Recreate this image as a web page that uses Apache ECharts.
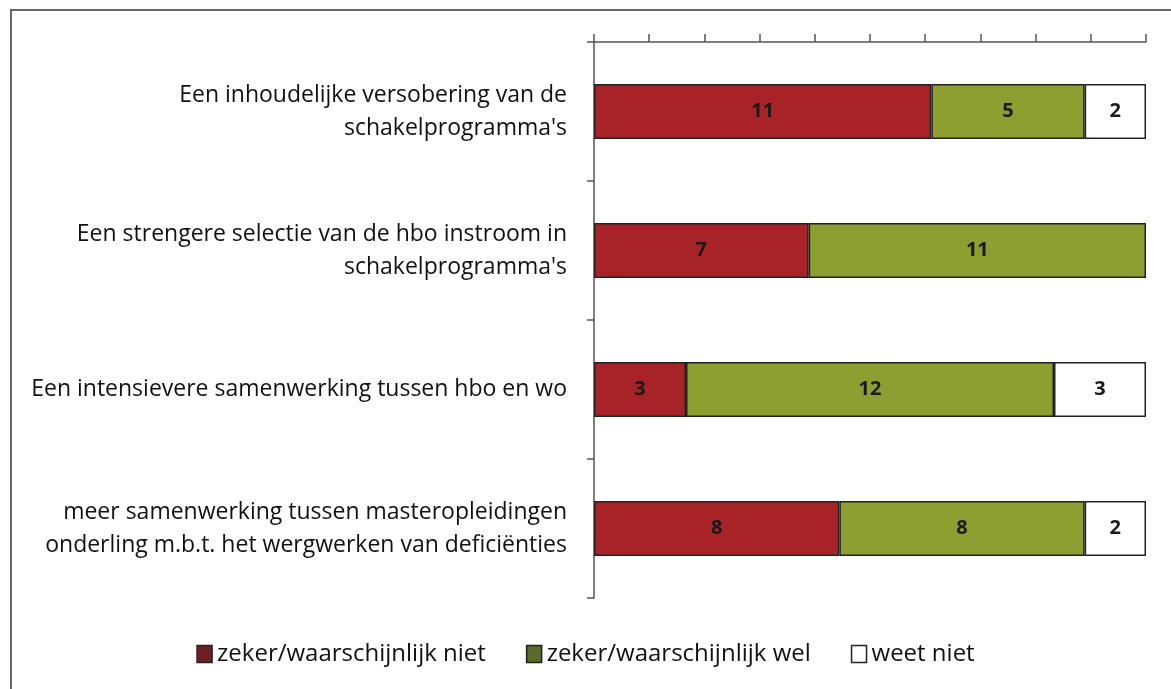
<!DOCTYPE html>
<html>
<head>
<meta charset="utf-8">
<script src="https://cdn.jsdelivr.net/npm/echarts@6/dist/echarts.min.js"></script>
<style>
  html, body { margin: 0; padding: 0; background: #fff; }
  #chart { width: 1171px; height: 689px; }
</style>
</head>
<body>
<div id="chart"></div>
<script>
// Categorieën (van boven naar beneden)
const categories = [
  "Een inhoudelijke versobering van de\nschakelprogramma's",
  "Een strengere selectie van de hbo instroom in\nschakelprogramma's",
  "Een intensievere samenwerking tussen hbo en wo",
  "meer samenwerking tussen masteropleidingen\nonderling m.b.t. het wergwerken van deficiënties"
];
const seriesNames = ['zeker/waarschijnlijk niet', 'zeker/waarschijnlijk wel', 'weet niet'];
const nietValues = [11, 7, 3, 8];
const welValues = [5, 11, 12, 8];
const weetNietValues = [2, 0, 3, 2];

const barColors = ['#a82327', '#8c9f30', '#ffffff'];
const legendColors = ['#6e1f23', '#5b6b2b', '#ffffff'];

const font = 'Open Sans';
const chart = echarts.init(document.getElementById('chart'));

function makeSeries(i, values) {
  return {
    name: seriesNames[i],
    type: 'bar',
    stack: 'totaal',
    barWidth: 55,
    data: values.map(v => v === 0 ? null : v),
    itemStyle: { color: barColors[i], borderColor: '#222', borderWidth: 1.5 },
    label: {
      show: true,
      position: 'inside',
      color: '#1a1a1a',
      fontFamily: font,
      fontWeight: 'bold',
      fontSize: 20
    }
  };
}

chart.setOption({
  animation: false,
  backgroundColor: '#fff',
  graphic: [{
    type: 'polyline',
    shape: { points: [[11, 689], [11, 10], [1171, 10]] },
    style: { stroke: '#666', lineWidth: 2, fill: null }
  }],
  grid: { left: 594, right: 25, top: 42, bottom: 91 },
  legend: {
    bottom: 18,
    left: 'center',
    itemWidth: 15,
    itemHeight: 17,
    itemGap: 40,
    textStyle: { fontFamily: font, fontSize: 24, color: '#111' },
    data: seriesNames.map((n, i) => ({
      name: n,
      icon: 'rect',
      itemStyle: { color: legendColors[i], borderColor: '#222', borderWidth: 1.5 }
    }))
  },
  xAxis: {
    type: 'value',
    position: 'top',
    min: 0,
    max: 18,
    interval: 1.8,
    axisLine: { show: true, lineStyle: { color: '#555', width: 1.5 } },
    axisTick: { show: true, length: 8, lineStyle: { color: '#555', width: 1.5 } },
    axisLabel: { show: false },
    splitLine: { show: false }
  },
  yAxis: {
    type: 'category',
    inverse: true,
    data: categories,
    axisLine: { show: true, lineStyle: { color: '#555', width: 1.5 } },
    axisTick: { show: true, length: 7, lineStyle: { color: '#555', width: 1.5 } },
    axisLabel: {
      margin: 27,
      fontFamily: font,
      fontSize: 23,
      lineHeight: 33,
      color: '#111',
      align: 'right'
    }
  },
  series: [
    makeSeries(0, nietValues),
    makeSeries(1, welValues),
    makeSeries(2, weetNietValues)
  ]
});
</script>
</body>
</html>
